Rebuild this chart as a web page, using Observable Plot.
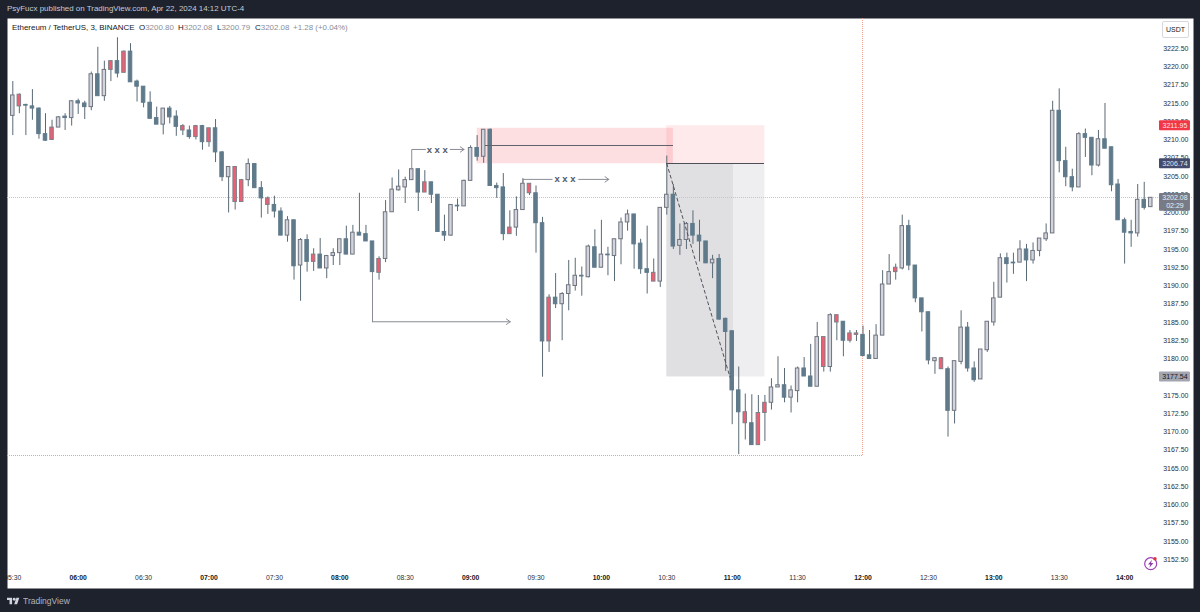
<!DOCTYPE html>
<html>
<head>
<meta charset="utf-8">
<script src="https://cdn.jsdelivr.net/npm/d3@7"></script>
<script src="https://cdn.jsdelivr.net/npm/@observablehq/plot@0.6"></script>
<style>
html,body{margin:0;padding:0;background:#1e222d;}
#wrap{position:relative;width:1200px;height:612px;overflow:hidden;font-family:"Liberation Sans",sans-serif;}
#wrap svg{display:block;}
#chart svg g[aria-label="text"]{opacity:.999;}
.ov{position:absolute;white-space:nowrap;opacity:.999;}
.lg{position:absolute;white-space:nowrap;top:22px;font-size:7.95px;line-height:11px;color:#8a8d98;opacity:.999;}
.lg b{font-weight:400;color:#131722;}
</style>
</head>
<body>
<div id="wrap">
  <div id="chart"></div>
  <div class="ov" style="left:7px;top:4px;font-size:7.95px;line-height:10px;color:#c8cad2;">PsyFucx published on TradingView.com, Apr 22, 2024 14:12 UTC-4</div>
  <div class="lg" style="left:12px"><b>Ethereum / TetherUS, 3, BINANCE</b></div>
  <div class="lg" style="left:139px"><b>O</b>3200.80</div>
  <div class="lg" style="left:178px"><b>H</b>3202.08</div>
  <div class="lg" style="left:217px"><b>L</b>3200.79</div>
  <div class="lg" style="left:255px"><b>C</b>3202.08</div>
  <div class="lg" style="left:293px">+1.28 (+0.04%)</div>
  <div class="ov" style="left:1162px;top:21px;width:25px;height:15px;border:1px solid #d6d8de;border-radius:2px;font-size:7px;line-height:15px;text-align:center;color:#131722;">USDT</div>
  <svg class="ov" style="left:1143px;top:556px;" width="16" height="16" viewBox="0 0 16 16">
    <circle cx="7.7" cy="7.7" r="6" fill="none" stroke="#9c3fb0" stroke-width="1.2"/>
    <path d="M9 3.8 5 8.4h2.3L6.4 11.8 10.4 7H8z" fill="#8e3aa6"/>
    <circle cx="12" cy="2.8" r="1.7" fill="#e0353f"/>
  </svg>
  <svg class="ov" style="left:7px;top:596px;" width="13" height="10" viewBox="0 4 36 22"><path fill="#d1d4dc" d="M14 6H0v6h7v12h7V6z"/><circle fill="#d1d4dc" cx="20" cy="10" r="4"/><path fill="#d1d4dc" d="M28 24h-8L26 6h8l-6 18z"/></svg>
  <div class="ov" style="left:23px;top:595px;font-size:8.5px;line-height:12px;color:#b2b5be;">TradingView</div>
</div>
<script>
const highs = [
3218.0,3216.3,3214.9,3216.9,3214.4,3213.6,3212.7,3213.2,3213.6,3215.4,
3215.6,3215.3,3219.3,3222.7,3220.8,3220.8,3224.0,3222.2,3223.2,3218.2,
3217.3,3216.6,3214.5,3214.3,3214.6,3214.0,3212.1,3211.9,3212.0,3212.0,
3211.6,3212.8,3208.4,3206.3,3206.3,3204.6,3207.4,3206.7,3204.3,3202.2,
3202.3,3200.7,3199.5,3199.0,3196.5,3197.0,3195.1,3196.5,3194.2,3195.1,
3196.4,3198.2,3198.3,3202.7,3198.3,3196.1,3194.0,3201.7,3204.8,3205.9,
3204.9,3206.0,3206.0,3205.8,3204.2,3202.5,3199.7,3201.1,3201.9,3204.5,
3209.2,3210.6,3211.4,3211.5,3204.1,3205.4,3200.3,3202.2,3204.7,3204.0,
3203.7,3199.4,3188.8,3191.7,3189.1,3193.5,3193.8,3192.6,3195.6,3197.7,
3199.0,3195.3,3196.4,3199.3,3200.4,3199.8,3196.4,3198.2,3193.7,3200.7,
3207.8,3203.9,3198.5,3198.7,3200.3,3199.0,3196.1,3194.2,3194.3,3185.6,
3183.8,3178.9,3175.2,3175.1,3175.0,3175.0,3177.3,3180.3,3178.7,3176.3,
3178.9,3180.2,3182.0,3185.0,3183.0,3186.2,3186.0,3185.1,3183.9,3183.9,
3184.5,3183.9,3184.7,3192.1,3194.3,3193.0,3199.7,3199.0,3192.8,3188.3,
3186.4,3180.2,3180.2,3178.9,3179.7,3186.6,3185.0,3179.6,3181.3,3185.1,
3190.5,3194.4,3194.5,3194.5,3196.2,3195.7,3195.9,3196.5,3198.5,3215.3,
3217.0,3209.0,3206.0,3211.0,3211.5,3210.3,3211.3,3215.0,3209.0,3204.6,
3199.3,3199.0,3203.9,3204.2,3202.08];
const bodyTops = [
3216.1,3216.2,3214.8,3214.6,3214.3,3210.8,3211.7,3213.1,3213.2,3215.3,
3215.3,3215.0,3219.0,3219.0,3219.6,3220.8,3220.8,3222.1,3222.1,3218.0,
3217.3,3215.1,3213.0,3214.3,3214.3,3213.2,3211.9,3211.3,3211.9,3211.9,
3211.6,3211.6,3208.3,3206.3,3206.3,3204.5,3206.7,3206.7,3203.4,3202.0,
3201.1,3200.2,3199.0,3199.0,3196.3,3196.3,3194.3,3194.3,3194.1,3194.5,
3196.4,3196.4,3197.3,3197.3,3197.1,3196.1,3193.7,3200.1,3203.2,3203.6,
3204.5,3206.0,3206.0,3204.2,3204.2,3202.5,3197.4,3201.1,3201.0,3204.4,
3208.9,3208.9,3211.4,3211.4,3203.7,3203.5,3198.0,3200.4,3204.0,3204.0,
3202.7,3198.6,3188.4,3188.4,3188.9,3190.1,3191.4,3191.4,3195.4,3195.3,
3194.3,3194.3,3196.4,3198.7,3199.8,3199.8,3195.8,3192.3,3191.8,3200.7,
3202.5,3202.5,3196.3,3198.5,3198.5,3196.9,3196.1,3193.6,3193.7,3185.5,
3183.8,3175.7,3172.7,3171.2,3172.6,3174.0,3176.1,3176.4,3176.4,3175.7,
3178.7,3178.7,3177.6,3183.0,3183.0,3186.0,3186.0,3185.1,3183.5,3183.5,
3183.3,3180.5,3183.2,3190.2,3191.9,3192.5,3198.2,3198.2,3192.8,3188.3,
3186.4,3180.1,3180.1,3178.6,3179.7,3184.3,3184.3,3178.7,3181.3,3185.1,
3188.3,3193.8,3193.8,3193.2,3195.0,3195.0,3194.8,3196.5,3197.2,3214.0,
3214.0,3207.1,3204.9,3210.8,3210.8,3210.3,3210.1,3210.1,3209.0,3203.9,
3199.0,3197.4,3201.8,3201.8,3202.08];
const bodyBottoms = [
3213.3,3214.6,3214.7,3214.3,3210.8,3209.9,3210.0,3211.7,3213.0,3213.0,
3215.0,3214.5,3214.5,3216.0,3216.0,3219.6,3219.1,3219.2,3217.9,3217.3,
3215.1,3212.9,3212.1,3212.1,3213.1,3211.8,3211.3,3210.4,3210.4,3209.7,
3209.7,3208.3,3204.9,3204.9,3201.5,3201.5,3204.5,3203.4,3202.0,3201.1,
3200.2,3196.9,3196.9,3192.7,3192.8,3193.3,3193.3,3192.4,3192.4,3194.1,
3194.5,3194.3,3194.3,3196.9,3196.1,3191.9,3191.8,3193.7,3200.1,3203.1,
3203.5,3204.5,3202.8,3202.8,3202.5,3197.4,3196.9,3196.9,3200.9,3200.9,
3204.4,3207.7,3207.7,3203.7,3203.4,3197.1,3197.1,3198.0,3200.4,3202.7,
3198.6,3182.4,3182.4,3187.5,3187.5,3188.9,3190.0,3191.3,3191.2,3192.5,
3192.5,3194.2,3194.1,3196.4,3198.7,3195.7,3192.3,3191.8,3190.6,3190.6,
3200.7,3195.4,3195.5,3196.3,3196.9,3196.1,3193.1,3193.1,3185.4,3183.7,
3175.7,3172.7,3171.2,3168.2,3168.2,3172.6,3174.0,3176.1,3174.7,3174.7,
3175.6,3177.6,3176.2,3176.2,3178.9,3178.9,3185.0,3182.5,3182.5,3183.3,
3180.4,3180.0,3180.0,3183.2,3190.2,3191.9,3192.4,3192.8,3188.3,3186.4,
3179.8,3179.7,3178.6,3172.9,3172.9,3179.6,3178.7,3177.1,3177.2,3181.2,
3185.0,3188.4,3193.0,3193.1,3193.2,3193.5,3193.5,3194.8,3196.4,3197.2,
3207.1,3204.9,3203.5,3203.5,3210.3,3206.5,3206.5,3208.8,3203.8,3199.0,
3197.3,3197.2,3197.2,3200.7,3200.8];
const lows = [
3210.6,3213.6,3210.6,3212.7,3210.1,3209.8,3210.0,3211.7,3211.3,3211.9,
3213.5,3212.8,3214.0,3216.0,3215.3,3218.0,3218.5,3219.2,3217.9,3215.2,
3214.4,3212.9,3212.1,3210.7,3212.2,3210.5,3210.6,3210.1,3210.0,3208.6,
3209.0,3206.9,3204.3,3200.0,3200.4,3201.5,3203.6,3203.4,3199.3,3199.8,
3199.3,3196.9,3196.0,3190.8,3187.9,3191.9,3192.0,3192.4,3191.0,3192.8,
3192.8,3194.3,3194.3,3196.9,3196.1,3190.5,3190.8,3193.2,3200.1,3203.0,
3201.3,3204.5,3200.2,3202.8,3201.3,3197.4,3196.1,3196.8,3200.2,3200.9,
3204.4,3207.1,3206.8,3203.7,3202.0,3196.2,3197.1,3196.8,3200.4,3202.4,
3194.5,3177.5,3180.9,3186.9,3182.5,3186.6,3189.3,3188.6,3191.1,3192.5,
3192.5,3191.4,3190.6,3192.9,3197.5,3192.3,3191.6,3188.9,3190.6,3189.8,
3199.7,3195.0,3194.2,3195.0,3195.7,3193.3,3193.1,3191.0,3185.3,3178.3,
3171.0,3166.9,3168.9,3168.2,3168.2,3168.7,3173.0,3176.1,3174.0,3172.6,
3174.0,3177.6,3176.2,3176.2,3178.2,3178.2,3182.5,3180.3,3182.2,3182.4,
3180.4,3180.0,3180.0,3183.2,3190.2,3190.8,3192.2,3192.1,3187.7,3183.7,
3179.2,3177.9,3178.6,3169.3,3171.1,3179.2,3178.2,3176.8,3177.2,3180.9,
3184.5,3188.4,3190.4,3191.6,3193.2,3190.6,3193.0,3194.0,3196.1,3197.2,
3205.5,3203.6,3202.9,3203.5,3207.6,3205.1,3206.3,3208.8,3202.9,3199.0,
3193.0,3195.3,3196.7,3200.4,3200.79];
// L = light body, S = slate body, R = red body
const kinds = (
"LRSSSSRLSL"+"SSLSLRSRSS"+"SSSLSSRSRS"+"RSSLRRLSSR"+"SSLSLSRSLL"+
"LSLSSSRLLL"+"LLSRSSSLSL"+"LSLSSSRLLR"+"SSRSLLLSLS"+"LSLLLSSSRL"+
"LSLLSSSLSS"+"SSRSRRLLSL"+"LSSLRLRSRR"+"SSLLLRLSSS"+"SLRSLLSSLL"+
"LLSSLSLLLL"+"SSSLSSLSSS"+"SSLSL").split("");
const firstBarMinute = 330;      // 05:30
const barMinutes = 3;

const hourTicks = [360,420,480,540,600,660,720,780,840];
const halfHourTicks = [330,390,450,510,570,630,690,750,810];
const priceTicks = [3152.5,3155,3157.5,3160,3162.5,3165,3167.5,3170,3172.5,3175,3177.5,3180,3182.5,3185,3187.5,3190,3192.5,3195,3197.5,3200,3202.5,3205,3207.5,3210,3212.5,3215,3217.5,3220,3222.5];

const lastPrice = 3202.08, stopPrice = 3211.95, entryPrice = 3206.74, targetPrice = 3177.54;
const tags = [
  {p: stopPrice, a: 3212.63, b: 3211.27, fill:"#f23645", text:"#fbe3e5"},
  {p: entryPrice, a: 3207.42, b: 3206.06, fill:"#434a6b", text:"#e3e5ee"},
  {p: lastPrice, a: 3202.67, b: 3200.25, fill:"#787b86", text:"#eceef2"},
  {p: targetPrice, a: 3178.22, b: 3176.86, fill:"#a3a6af", text:"#131722"}
];
const zoneRed = {m1:543, m2:633, top:3211.6, bottom:entryPrice, level:3209.24};
const zoneRedLight = {m1:630, m2:675, top:stopPrice, bottom:entryPrice};
const zoneGrey = {m1:630, m2:660.6, top:entryPrice, bottom:targetPrice};
const zoneGreyLight = {m1:660.6, m2:675, top:entryPrice, bottom:targetPrice};
const redVertical = 719.8, redHorizontal = 3166.78;
const dashed = [{m:630,p:3206.74},{m:659,p:3177.5}];
const pathA = [{m:513,p:3206.0},{m:513,p:3208.7},{m:519.3,p:3208.7}];
const arrowA = {m1:530.7, m2:537, p:3208.7, labelM:524.7};
const pathB = [{m:564,p:3204.0},{m:564,p:3204.6},{m:577.4,p:3204.6}];
const arrowB = {m1:589.6, m2:603.4, p:3204.6, labelM:583.3};
const pathC = [{m:495,p:3191.9},{m:495,p:3185.1}];
const arrowC = {m1:495, m2:558.2, p:3185.1};

const candles = highs.map((h,i)=>({
  m: firstBarMinute + i*barMinutes, high:h, top:bodyTops[i], bottom:bodyBottoms[i], low:lows[i], kind:kinds[i]
}));
const fills = {L:"#d1d4dc", S:"#5f7a8b", R:"#ee5f74"};
const strokes = {L:"#70747e", S:"#5f7a8b", R:"#7d7f88"};
const wick = "#5a6a75";
const hm = m => String(Math.floor(m/60)).padStart(2,"0")+":"+String(m%60).padStart(2,"0");
const zoneRect = (z,fill,op)=>Plot.rect([z],{x1:"m1",x2:"m2",y1:"bottom",y2:"top",fill,fillOpacity:op});
const ann = "#8a8d96";
const redLine = "#f59a8a";

const plot = Plot.plot({
  width:1200, height:612,
  marginLeft:7, marginRight:7, marginTop:18, marginBottom:24,
  style:{background:"#1e222d", fontFamily:"Liberation Sans, sans-serif"},
  x:{type:"linear", domain:[327.57,871.6], axis:null},
  y:{type:"linear", domain:[3148.56,3226.64], axis:null},
  marks:[
    Plot.frame({fill:"white", stroke:null}),
    zoneRect(zoneGrey,"#e0e0e3",1),
    zoneRect(zoneGreyLight,"#eeeef0",1),
    zoneRect(zoneRed,"#f23645",0.16),
    zoneRect(zoneRedLight,"#f23645",0.11),
    Plot.ruleY([lastPrice],{stroke:"#c4c6cc",strokeDasharray:"1,1",dy:-0.3}),
    Plot.ruleX([redVertical],{y1:redHorizontal,y2:3226.64,stroke:redLine,strokeDasharray:"1,1"}),
    Plot.ruleY([redHorizontal],{x1:327.57,x2:redVertical,stroke:redLine,strokeDasharray:"1,1"}),
    Plot.ruleX(candles,{x:"m",y1:"low",y2:"high",stroke:wick}),
    Plot.rect(candles,{x1:d=>d.m-0.8,x2:d=>d.m+0.8,y1:"bottom",y2:"top",fill:d=>fills[d.kind],stroke:d=>strokes[d.kind],strokeWidth:1}),
    Plot.ruleY([zoneRed],{x1:547,x2:"m2",y:"level",stroke:"#60636c",shapeRendering:"crispEdges"}),
    Plot.ruleY([zoneRedLight],{x1:"m1",x2:"m2",y:"bottom",stroke:"#4c4f58",shapeRendering:"crispEdges"}),
    Plot.line(dashed,{x:"m",y:"p",stroke:"#50535c",strokeDasharray:"3,3",strokeWidth:1}),
    Plot.line(pathA,{x:"m",y:"p",stroke:ann,strokeWidth:1}),
    Plot.arrow([arrowA],{x1:"m1",x2:"m2",y1:"p",y2:"p",stroke:ann,strokeWidth:1,headLength:7,headAngle:70}),
    Plot.text([arrowA],{x:"labelM",y:"p",text:()=>"x x x",fontWeight:"bold",fontSize:9.5,fill:"#555862"}),
    Plot.line(pathB,{x:"m",y:"p",stroke:ann,strokeWidth:1}),
    Plot.arrow([arrowB],{x1:"m1",x2:"m2",y1:"p",y2:"p",stroke:ann,strokeWidth:1,headLength:7,headAngle:70}),
    Plot.text([arrowB],{x:"labelM",y:"p",text:()=>"x x x",fontWeight:"bold",fontSize:9.5,fill:"#555862"}),
    Plot.line(pathC,{x:"m",y:"p",stroke:ann,strokeWidth:1}),
    Plot.arrow([arrowC],{x1:"m1",x2:"m2",y1:"p",y2:"p",stroke:ann,strokeWidth:1,headLength:7,headAngle:70}),
    Plot.text(priceTicks,{y:d=>d,frameAnchor:"right",dx:-5,textAnchor:"end",text:d=>d.toFixed(2),fontSize:7,fill:"#2a2e39"}),
    Plot.text(halfHourTicks,{x:d=>d,frameAnchor:"bottom",dy:-9,text:hm,fontSize:6.8,fill:"#2a2e39",clip:true}),
    Plot.text(hourTicks,{x:d=>d,frameAnchor:"bottom",dy:-9,text:hm,fontSize:6.8,fill:"#131722",fontWeight:"bold",clip:true}),
    Plot.rect(tags,{x1:856,x2:870.2,y1:"b",y2:"a",fill:"fill",rx:1}),
    Plot.text(tags,{x:863.1,y:"p",text:d=>d.p.toFixed(2),fill:"text",fontSize:7}),
    Plot.text(["02:29"],{x:863.1,y:3201.0,text:d=>d,fill:"#eceef2",fontSize:7})
  ]
});
document.getElementById("chart").appendChild(plot);
</script>
</body>
</html>
